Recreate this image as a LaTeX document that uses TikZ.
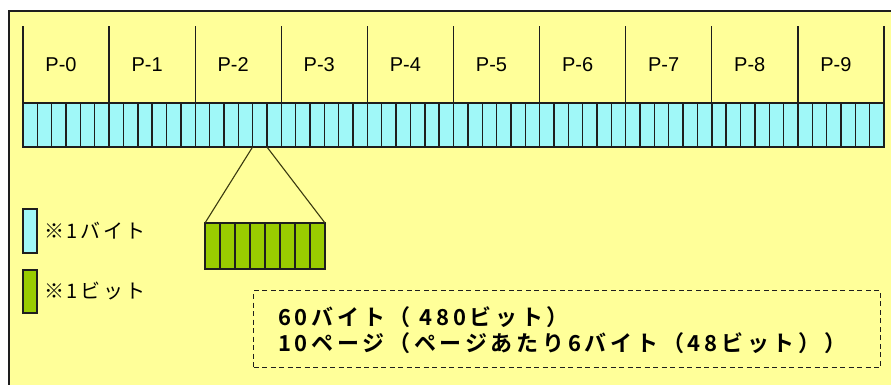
\documentclass[tikz,border=0pt]{standalone}
\usepackage{fontspec}
\setmainfont{Liberation Sans}
\newfontfamily\jp{Noto Sans CJK JP}[LetterSpace=13]
\newfontfamily\jpb{Noto Sans CJK JP Bold}[LetterSpace=17]
\definecolor{bgyellow}{HTML}{FFFF99}
\definecolor{bytecyan}{HTML}{A0F8F8}
\definecolor{bitgreen}{HTML}{99CC00}
\definecolor{linedark}{HTML}{1E1E1E}
\definecolor{trapline}{HTML}{3A3A10}
\tikzset{
  bytecell/.style={draw=linedark, line width=1.4pt, fill=bytecyan, minimum width=14.35pt, minimum height=44pt, inner sep=0pt, outer sep=0pt, anchor=north west},
  bitcell/.style={draw=linedark, line width=1.4pt, fill=bitgreen, minimum width=15pt, minimum height=46pt, inner sep=0pt, outer sep=0pt, anchor=north west},
  pagesep/.style={draw=linedark, line width=1.3pt},
  plabel/.style={font=\fontsize{20}{22}\selectfont, text=black, inner sep=0pt},
  legtext/.style={font=\jp\fontsize{20}{22}\selectfont, text=black, anchor=west, inner sep=0pt},
  sumtext/.style={font=\jpb\fontsize{22}{24}\selectfont, text=black, anchor=west, inner sep=0pt},
  legbox/.style={draw=linedark, line width=1.4pt, minimum width=14pt, minimum height=44pt, inner sep=0pt, outer sep=0pt, anchor=north west},
  sumbox/.style={draw=linedark, line width=1.3pt, dash pattern=on 5pt off 3.5pt, minimum width=627pt, minimum height=77pt, inner sep=0pt, anchor=north west}
}
\begin{document}
\begin{tikzpicture}[x=1pt, y=-1pt]
\useasboundingbox (0,0) rectangle (891,385);
\clip (0,0) rectangle (891,385);
\fill[white] (0,0) rectangle (891,385);
\draw[fill=bgyellow, draw=linedark, line width=2pt] (9,11) rectangle (900,400);
% bytes
\foreach \i in {0,...,59} {
  \node[bytecell] (b\i) at ({23+14.35*\i},103) {};
}
% page separators and labels
\foreach \p in {0,...,9} {
  \pgfmathtruncatemacro{\c}{6*\p}
  \draw[pagesep] (b\c.north west) -- ++(0,-77);
  \node[plabel] (p\p) at ({23+86.1*\p+43-5},65) {P-\p};
}
\draw[pagesep] (b59.north east) -- ++(0,-77);
% bits
\foreach \j in {0,...,7} {
  \node[bitcell] (g\j) at ({205+15*\j},223) {};
}
\draw[draw=trapline, line width=1.1pt] (b16.south west) -- (g0.north west);
\draw[draw=trapline, line width=1.1pt] (b16.south east) -- (g7.north east);
% legend
\node[legbox, fill=bytecyan] (lb) at (23,209) {};
\node[legtext] (lbt) at (44,231) {※1バイト};
\node[legbox, fill=bitgreen, minimum height=43pt] (lg) at (23,270) {};
\node[legtext] (lgt) at (44,291) {※1ビット};
% summary box
\node[sumbox] (sb) at (253,290) {};
\node[sumtext] (s1) at (278,317) {60バイト（ 480ビット）};
\node[sumtext] (s2) at (278,343) {10ページ（ページあたり6バイト（48ビット））};
\end{tikzpicture}
\end{document}
